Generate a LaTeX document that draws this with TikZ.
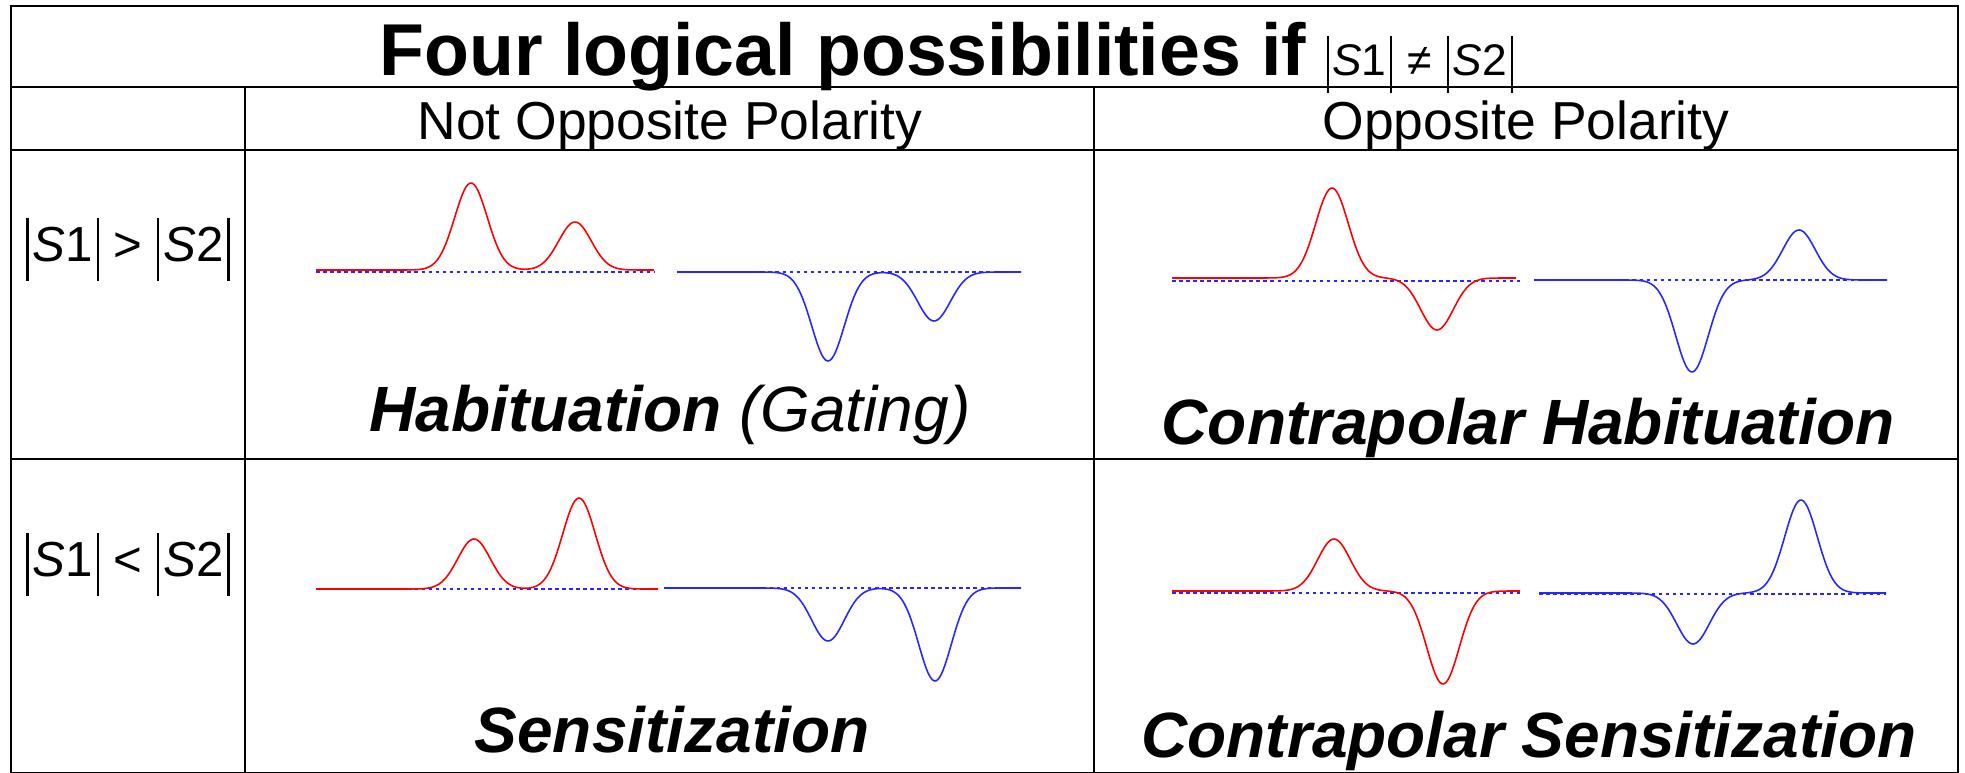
\documentclass[tikz,border=0pt]{standalone}
\usepackage{fontspec}
\setmainfont{Liberation Sans}
\usetikzlibrary{positioning}

% |x| with tall thin bars
\newcommand{\magn}[1]{\rule[-0.38em]{0.045em}{1.28em}\kern0.08em#1\kern0.08em\rule[-0.38em]{0.045em}{1.28em}}

\begin{document}
\begin{tikzpicture}[
  x=0.01cm, y=-0.01cm,
  declare function={pulse(\s,\m,\h)=\h*exp(-((\s-\m)/23)^2);},
  grid/.style={line width=0.63pt},
  redwave/.style={red, line width=0.45pt},
  bluewave/.style={blue!85!white, line width=0.45pt},
  zeroline/.style={blue!85!white, line width=0.6pt, dash pattern=on 1pt off 1pt},
  titletext/.style={anchor=base, inner sep=0pt, font=\fontsize{20.9pt}{24pt}\selectfont\bfseries},
  headtext/.style={anchor=base, inner sep=0pt, font=\fontsize{15.2pt}{18pt}\selectfont},
  rowtext/.style={anchor=base, inner sep=0pt, font=\fontsize{14pt}{16pt}\selectfont},
  casetext/.style={anchor=base, inner sep=0pt, font=\fontsize{18.2pt}{22pt}\selectfont\bfseries\itshape}
]
\useasboundingbox (0,0) rectangle (1965,773);

% table
\draw[grid] (11,6) rectangle (1958,773);
\draw[grid] (11,87) -- (1958,87);
\draw[grid] (11,150) -- (1958,150);
\draw[grid] (11,459) -- (1958,459);
\draw[grid] (245,87) -- (245,773);
\draw[grid] (1094,87) -- (1094,773);

% headings
\node[titletext] (title) at (946,76) {Four logical possibilities if {\fontsize{12.6pt}{14pt}\selectfont\mdseries\magn{\textit{S}1}\kern0.35em≠\kern0.35em\magn{\textit{S}2}}};
\node[headtext] (hnot) at (670,140) {Not Opposite Polarity};
\node[headtext] (hopp) at (1526,140) {Opposite Polarity};
\node[rowtext] (r1) at (128,262) {\magn{\textit{S}1}\kern0.3em>\kern0.3em\magn{\textit{S}2}};
\node[rowtext] (r2) at (128,577) {\magn{\textit{S}1}\kern0.3em<\kern0.3em\magn{\textit{S}2}};

% habituation
\draw[zeroline] (316,272) -- (654,272);
\draw[redwave] plot[domain=316:654, samples=170] (\x,{270 - pulse(\x,471,87) - pulse(\x,575,48)});
\draw[zeroline] (677,272) -- (1021,272);
\draw[bluewave] plot[domain=677:1021, samples=170] (\x,{272 + pulse(\x,828,89) + pulse(\x,934,49)});
\node[casetext] (hab) at (670,432) {Habituation \mdseries(Gating)};

% contrapolar habituation
\draw[zeroline] (1172,281) -- (1523,281);
\draw[redwave] plot[domain=1172:1516, samples=170] (\x,{278 - pulse(\x,1332,90) + pulse(\x,1437,52)});
\draw[zeroline] (1534,280) -- (1887,280);
\draw[bluewave] plot[domain=1534:1887, samples=170] (\x,{280 + pulse(\x,1692,92) - pulse(\x,1799,50)});
\node[casetext] (chab) at (1528,445) {Contrapolar Habituation};

% sensitization
\draw[zeroline] (316,589) -- (658,589);
\draw[redwave] plot[domain=316:658, samples=170] (\x,{589 - pulse(\x,474,50) - pulse(\x,579,91)});
\draw[zeroline] (664,588) -- (1021,588);
\draw[bluewave] plot[domain=664:1021, samples=170] (\x,{588 + pulse(\x,828,53) + pulse(\x,935,93)});
\node[casetext] (sens) at (672,753) {Sensitization};

% contrapolar sensitization
\draw[zeroline] (1172,593) -- (1523,593);
\draw[redwave] plot[domain=1172:1520, samples=170] (\x,{591 - pulse(\x,1334,52) + pulse(\x,1443,93)});
\draw[zeroline] (1539,594) -- (1886,594);
\draw[bluewave] plot[domain=1539:1886, samples=170] (\x,{593 + pulse(\x,1693,51) - pulse(\x,1801,93)});
\node[casetext] (csens) at (1529,758) {Contrapolar Sensitization};
\end{tikzpicture}
\end{document}
